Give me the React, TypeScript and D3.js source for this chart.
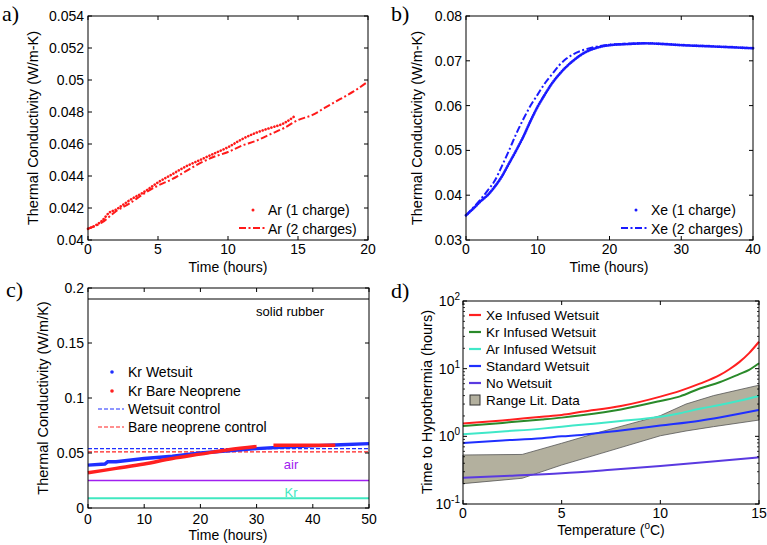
import React from 'react';
import * as d3 from 'd3';

const FONT = "'Liberation Sans', Arial, Helvetica, sans-serif";
const SERIF = "'Liberation Serif', 'DejaVu Serif', serif";

// Panel a: Ar
const arT1 = [0, 0.5, 1, 1.5, 2, 2.5, 3, 4, 5, 6, 7, 8, 9, 10, 11, 12, 13, 14, 14.7];
const ar1 = [0.0407, 0.0409, 0.0412, 0.0417, 0.0419, 0.0422, 0.0425, 0.0430, 0.0436, 0.0441, 0.0446, 0.0450, 0.0454, 0.0458, 0.0463, 0.0467, 0.0470, 0.0473, 0.0477];
const arT2 = [0, 1, 2, 3, 4, 5, 6, 7, 8, 9, 10, 11, 12, 13, 14, 15, 16, 17, 18, 19, 20];
const ar2 = [0.0407, 0.0411, 0.0418, 0.0423, 0.0429, 0.0434, 0.0438, 0.0443, 0.0448, 0.0452, 0.0455, 0.0459, 0.0462, 0.0466, 0.0470, 0.0475, 0.0478, 0.0483, 0.0488, 0.0493, 0.0499];
const aXTicks = [0, 5, 10, 15, 20];
const aYTicks = [0.04, 0.042, 0.044, 0.046, 0.048, 0.05, 0.052, 0.054];
const aYLabels = ['0.04', '0.042', '0.044', '0.046', '0.048', '0.05', '0.052', '0.054'];

// Panel b: Xe
const xeT1 = [0, 1, 2, 3, 4, 5, 6, 7, 8, 9, 10, 11, 12, 13, 14, 15, 16, 17, 18, 20, 22, 25, 28, 30, 33, 36, 40];
const xe1 = [0.0355, 0.0370, 0.0386, 0.0400, 0.0419, 0.0442, 0.0471, 0.0500, 0.0531, 0.0566, 0.0598, 0.0625, 0.0650, 0.0670, 0.0687, 0.0701, 0.0713, 0.0722, 0.0728, 0.0735, 0.0737, 0.0739, 0.0737, 0.0735, 0.0733, 0.0731, 0.0728];
const xeT2 = [0, 1, 2, 3, 4, 5, 6, 7, 8, 9, 10, 11, 12, 13, 14, 15, 16, 17, 18, 20, 22, 25];
const xe2 = [0.0355, 0.0372, 0.0390, 0.0410, 0.0432, 0.0465, 0.0500, 0.0537, 0.0570, 0.0600, 0.0625, 0.0650, 0.0670, 0.0690, 0.0705, 0.0715, 0.0722, 0.0727, 0.0731, 0.0736, 0.0738, 0.0739];
const bXTicks = [0, 10, 20, 30, 40];
const bYTicks = [0.03, 0.04, 0.05, 0.06, 0.07, 0.08];
const bYLabels = ['0.03', '0.04', '0.05', '0.06', '0.07', '0.08'];

// Panel c: Kr
const krWT = [0, 3, 3.5, 5, 10, 15, 20, 25, 30, 35, 40, 45, 50];
const krW = [0.039, 0.040, 0.042, 0.042, 0.045, 0.047, 0.050, 0.052, 0.054, 0.0555, 0.0565, 0.0575, 0.0585];
const krBT1 = [0, 5, 10, 15, 20, 25, 30];
const krB1 = [0.032, 0.036, 0.040, 0.045, 0.049, 0.053, 0.056];
const krBT2 = [33, 38, 44];
const krB2 = [0.057, 0.057, 0.057];
const wetsuitCtrl = 0.054;
const bareCtrl = 0.051;
const solidRubber = 0.19;
const airK = 0.025;
const krK = 0.0088;
const cXTicks = [0, 10, 20, 30, 40, 50];
const cYTicks = [0, 0.05, 0.1, 0.15, 0.2];
const cYLabels = ['0', '0.05', '0.1', '0.15', '0.2'];

// Panel d: hypothermia
const xeDT = [0, 2, 4, 5, 6, 8, 10, 11, 12, 13, 13.5, 14, 14.5, 15];
const xeD = [1.55, 1.72, 1.95, 2.07, 2.3, 2.8, 3.86, 4.7, 6.0, 8.0, 9.8, 12.5, 17, 25];
const krDT = [0, 2, 4, 5, 6, 8, 10, 11, 12, 13, 14, 14.5, 15];
const krD = [1.42, 1.58, 1.77, 1.89, 2.05, 2.5, 3.33, 3.9, 5.1, 6.3, 8.3, 9.6, 12];
const arDT = [0, 2, 4, 5, 6, 8, 10, 11, 12, 13, 14, 15];
const arD = [1.07, 1.18, 1.3, 1.39, 1.48, 1.68, 1.95, 2.2, 2.55, 2.9, 3.35, 3.95];
const stdDT = [0, 2, 4, 5, 6, 8, 10, 12, 13, 14, 15];
const stdD = [0.8, 0.87, 0.94, 1.0, 1.05, 1.22, 1.44, 1.7, 1.9, 2.15, 2.45];
const noDT = [0, 2.5, 5, 7.5, 10, 12.5, 15];
const noD = [0.245, 0.262, 0.284, 0.32, 0.365, 0.42, 0.49];
const bandT = [0, 3, 5, 7, 10, 11.3, 12.7, 15];
const bandHi = [0.53, 0.54, 0.79, 1.17, 2.02, 3.0, 4.0, 5.7];
const bandLo = [0.2, 0.24, 0.377, 0.56, 1.02, 1.2, 1.39, 1.74];
const dXTicks = [0, 5, 10, 15];
const dYTicks = [0.1, 1, 10, 100];
const dYExp = ['-1', '0', '1', '2'];
const dLegend = ['Xe Infused Wetsuit', 'Kr Infused Wetsuit', 'Ar Infused Wetsuit', 'Standard Wetsuit', 'No Wetsuit', 'Range Lit. Data'];
const dColors = ['#ff2020', '#2a8a2a', '#40e8c8', '#1f2fff', '#5a3ae0'];

const TL = 4;

function Frame({ xs, ys, xTicks, yTicks, yLabels, xLabels, labelDy = 17 }: any) {
  const [x0, x1] = xs.range();
  const [y1, y0] = ys.range();
  return (
    <g>
      <rect x={x0} y={y0} width={x1 - x0} height={y1 - y0} fill="none" stroke="#000" strokeWidth={1} />
      {xTicks.map((t: number, i: number) => (
        <g key={'x' + i}>
          <line x1={xs(t)} x2={xs(t)} y1={y1} y2={y1 - TL} stroke="#000" />
          <line x1={xs(t)} x2={xs(t)} y1={y0} y2={y0 + TL} stroke="#000" />
          <text x={xs(t)} y={y1 + labelDy} textAnchor="middle" fontSize={14} fontFamily={FONT}>{xLabels ? xLabels[i] : String(t)}</text>
        </g>
      ))}
      {yTicks.map((t: number, i: number) => (
        <g key={'y' + i}>
          <line x1={x0} x2={x0 + TL} y1={ys(t)} y2={ys(t)} stroke="#000" />
          <line x1={x1} x2={x1 - TL} y1={ys(t)} y2={ys(t)} stroke="#000" />
          {yLabels && <text x={x0 - 4} y={ys(t) + 5} textAnchor="end" fontSize={14} fontFamily={FONT}>{yLabels[i]}</text>}
        </g>
      ))}
    </g>
  );
}

function pathOf(xs: any, ys: any, T: number[], V: number[], curve: any = d3.curveMonotoneX) {
  const pts = T.map((t, i) => [t, V[i]] as [number, number]);
  return d3.line<[number, number]>().x(d => xs(d[0])).y(d => ys(d[1])).curve(curve)(pts) || '';
}

export default function App() {
  const ax = d3.scaleLinear().domain([0, 20]).range([88, 368]);
  const ay = d3.scaleLinear().domain([0.04, 0.054]).range([240, 16]);
  const bx = d3.scaleLinear().domain([0, 40]).range([466, 753]);
  const by = d3.scaleLinear().domain([0.03, 0.08]).range([240, 16]);
  const cx = d3.scaleLinear().domain([0, 50]).range([88, 369]);
  const cy = d3.scaleLinear().domain([0, 0.2]).range([508, 288]);
  const dx = d3.scaleLinear().domain([0, 15]).range([463, 759]);
  const dy = d3.scaleLog().domain([0.1, 100]).range([504, 301]);

  const red = '#ff1a1a';
  const blue = '#1a1aff';
  const dashDot = '7,2.5,2,2.5';

  const minor: number[] = [];
  [0.1, 1, 10].forEach(b => { for (let k = 2; k <= 9; k++) minor.push(b * k); });

  const bandPts = bandT.map((t, i) => ({ t, lo: bandLo[i], hi: bandHi[i] }));
  const bandPath = d3.area<any>().x(d => dx(d.t)).y0(d => dy(d.lo)).y1(d => dy(d.hi))(bandPts) || '';

  const dSeries = [[xeDT, xeD], [krDT, krD], [arDT, arD], [stdDT, stdD], [noDT, noD]];

  return (
    <svg width={767} height={545} style={{ position: 'absolute', left: 0, top: 0, background: '#fff' }} fontFamily={FONT}>
      <rect x={0} y={0} width={767} height={545} fill="#fff" />

      {/* Panel a */}
      <text x={2} y={21} fontSize={22} fontFamily={SERIF}>a)</text>
      <path d={pathOf(ax, ay, arT2, ar2)} fill="none" stroke={red} strokeWidth={2} strokeDasharray={dashDot} />
      <path d={pathOf(ax, ay, arT1, ar1)} fill="none" stroke={red} strokeWidth={2.6} strokeDasharray="0.1,3" strokeLinecap="round" />
      <Frame xs={ax} ys={ay} xTicks={aXTicks} yTicks={aYTicks} yLabels={aYLabels} labelDy={14} />
      <text transform={`translate(38,128) rotate(-90)`} textAnchor="middle" fontSize={14.5}>Thermal Conductivity (W/m-K)</text>
      <text x={228} y={272} textAnchor="middle" fontSize={14}>Time (hours)</text>
      <circle cx={253} cy={210} r={1.5} fill={red} />
      <text x={268} y={215} fontSize={14}>Ar (1 charge)</text>
      <line x1={239} x2={265} y1={228} y2={228} stroke={red} strokeWidth={2} strokeDasharray={dashDot} />
      <text x={268} y={234} fontSize={14}>Ar (2 charges)</text>

      {/* Panel b */}
      <text x={391} y={21} fontSize={22} fontFamily={SERIF}>b)</text>
      <path d={pathOf(bx, by, xeT2, xe2)} fill="none" stroke={blue} strokeWidth={2} strokeDasharray={dashDot} />
      <path d={pathOf(bx, by, xeT1, xe1)} fill="none" stroke={blue} strokeWidth={2.8} strokeDasharray="0.1,2" strokeLinecap="round" />
      <Frame xs={bx} ys={by} xTicks={bXTicks} yTicks={bYTicks} yLabels={bYLabels} labelDy={14} />
      <text transform={`translate(422,128) rotate(-90)`} textAnchor="middle" fontSize={14.5}>Thermal Conductivity (W/m-K)</text>
      <text x={609} y={272} textAnchor="middle" fontSize={14}>Time (hours)</text>
      <circle cx={636} cy={210} r={1.5} fill={blue} />
      <text x={651} y={215} fontSize={14}>Xe (1 charge)</text>
      <line x1={621} x2={647} y1={228} y2={228} stroke={blue} strokeWidth={2} strokeDasharray={dashDot} />
      <text x={651} y={234} fontSize={14}>Xe (2 charges)</text>

      {/* Panel c */}
      <text x={6} y={297} fontSize={22} fontFamily={SERIF}>c)</text>
      <line x1={cx(0)} x2={cx(50)} y1={cy(solidRubber)} y2={cy(solidRubber)} stroke="#000" strokeWidth={1} />
      <text x={290} y={316} textAnchor="middle" fontSize={13}>solid rubber</text>
      <line x1={cx(0)} x2={cx(50)} y1={cy(airK)} y2={cy(airK)} stroke="#a020f0" strokeWidth={1.3} />
      <text x={291} y={469} textAnchor="middle" fontSize={13} fill="#a020f0">air</text>
      <line x1={cx(0)} x2={cx(50)} y1={cy(krK)} y2={cy(krK)} stroke="#40e8c0" strokeWidth={2} />
      <text x={291} y={497} textAnchor="middle" fontSize={13} fill="#40e8c0">Kr</text>
      <line x1={cx(0)} x2={cx(50)} y1={cy(wetsuitCtrl)} y2={cy(wetsuitCtrl)} stroke="#1f2fff" strokeWidth={1.1} strokeDasharray="4,2" />
      <line x1={cx(0)} x2={cx(50)} y1={cy(bareCtrl)} y2={cy(bareCtrl)} stroke="#ff2020" strokeWidth={1.1} strokeDasharray="4,2" />
      <path d={pathOf(cx, cy, krWT, krW, d3.curveLinear)} fill="none" stroke="#1f2fff" strokeWidth={3.4} />
      <path d={pathOf(cx, cy, krBT1, krB1)} fill="none" stroke="#ff2020" strokeWidth={3.4} />
      <path d={pathOf(cx, cy, krBT2, krB2)} fill="none" stroke="#ff2020" strokeWidth={3.4} />
      <Frame xs={cx} ys={cy} xTicks={cXTicks} yTicks={cYTicks} yLabels={cYLabels} labelDy={16} />
      <text transform={`translate(48,398) rotate(-90)`} textAnchor="middle" fontSize={14.5}>Thermal Conductivity (W/m/K)</text>
      <text x={228} y={540} textAnchor="middle" fontSize={14}>Time (hours)</text>
      <circle cx={112} cy={372} r={1.8} fill="#1f2fff" />
      <text x={128} y={377} fontSize={14}>Kr Wetsuit</text>
      <circle cx={112} cy={391} r={1.8} fill="#ff2020" />
      <text x={128} y={396} fontSize={14}>Kr Bare Neoprene</text>
      <line x1={98} x2={124} y1={409} y2={409} stroke="#1f2fff" strokeWidth={1.1} strokeDasharray="4,2" />
      <text x={128} y={414} fontSize={14}>Wetsuit control</text>
      <line x1={98} x2={124} y1={427} y2={427} stroke="#ff2020" strokeWidth={1.1} strokeDasharray="4,2" />
      <text x={128} y={432} fontSize={14}>Bare neoprene control</text>

      {/* Panel d */}
      <text x={391} y={298} fontSize={22} fontFamily={SERIF}>d)</text>
      <path d={bandPath} fill="#b3b09e" stroke="#555" strokeWidth={0.8} />
      {dSeries.map((s, i) => (
        <path key={i} d={pathOf(dx, dy, s[0] as number[], s[1] as number[])} fill="none" stroke={dColors[i]} strokeWidth={2} />
      ))}
      <Frame xs={dx} ys={dy} xTicks={dXTicks} yTicks={dYTicks} labelDy={14} />
      {minor.map((m, i) => (
        <g key={'m' + i}>
          <line x1={463} x2={465} y1={dy(m)} y2={dy(m)} stroke="#000" strokeWidth={0.8} />
          <line x1={759} x2={757} y1={dy(m)} y2={dy(m)} stroke="#000" strokeWidth={0.8} />
        </g>
      ))}
      {dYTicks.map((t, i) => (
        <text key={'dl' + i} x={dx(0) - 3} y={dy(t) + 5} textAnchor="end" fontSize={14}>
          10<tspan fontSize={10} dy={-6}>{dYExp[i]}</tspan>
        </text>
      ))}
      <text transform={`translate(432,402) rotate(-90)`} textAnchor="middle" fontSize={14.5}>Time to Hypothermia (hours)</text>
      <text x={611} y={535} textAnchor="middle" fontSize={14}>Temperature (<tspan fontSize={10} dy={-6}>o</tspan><tspan dy={6}>C)</tspan></text>
      {dLegend.map((name, i) => (
        <g key={'lg' + i}>
          {i < 5 ? (
            <line x1={469} x2={481} y1={315 + i * 17} y2={315 + i * 17} stroke={dColors[i]} strokeWidth={2.2} />
          ) : (
            <rect x={470} y={395} width={10} height={10} fill="#b3b09e" stroke="#333" strokeWidth={1} />
          )}
          <text x={486} y={320 + i * 17} fontSize={13.5}>{name}</text>
        </g>
      ))}
    </svg>
  );
}
